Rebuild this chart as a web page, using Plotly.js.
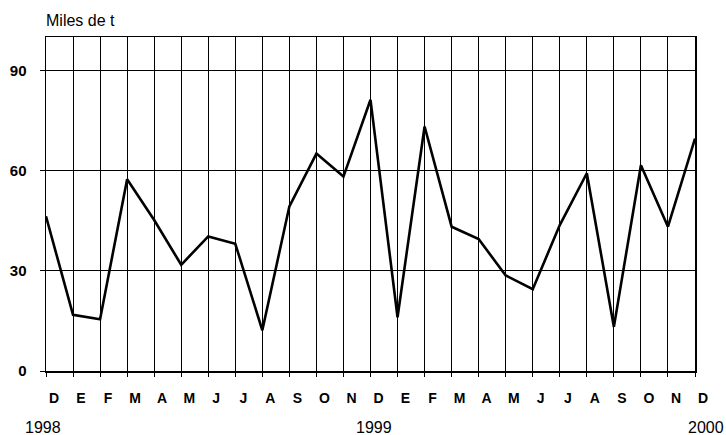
<!DOCTYPE html>
<html>
<head>
<meta charset="utf-8">
<script src="https://cdn.plot.ly/plotly-3.0.1.min.js"></script>
<style>html,body{margin:0;padding:0;background:#fff;}#chart{width:726px;height:435px;}</style>
</head>
<body>
<div id="chart"></div>
<script>
const monthLabels = ["D","E","F","M","A","M","J","J","A","S","O","N","D","E","F","M","A","M","J","J","A","S","O","N","D"];
const values = [46.3,16.8,15.5,57.4,45.2,31.8,40.3,38.1,12.2,49.3,65.1,58.2,81.2,16.1,73.2,43.2,39.5,28.6,24.5,43.7,59.2,13.2,61.6,43.2,69.6];
const yearLabels = ["1998","1999","2000"];
const yearIdx = [0,12,24];
const yTicks = [0,30,60,90];
const unitLabel = "Miles de t";

const idx = monthLabels.map((_, i) => i);
const yearShift = [-3, 3, 11];
const FF = "Arial, 'Liberation Sans', sans-serif";

const trace = {
  x: idx, y: values, type: "scatter", mode: "lines",
  line: {color: "#000", width: 2.6}, hoverinfo: "skip"
};

const layout = {
  width: 726, height: 435,
  margin: {l: 46, r: 31, t: 37, b: 64},
  paper_bgcolor: "#fff", plot_bgcolor: "#fff",
  showlegend: false,
  font: {family: FF, color: "#000"},
  xaxis: {
    range: [0, 24], tickmode: "array", tickvals: idx, ticktext: monthLabels,
    showgrid: true, gridcolor: "#000", gridwidth: 1,
    ticks: "outside", ticklen: 4, tickcolor: "#000", tickwidth: 1,
    showline: true, linecolor: "#000", linewidth: 1.5, mirror: true,
    zeroline: false, ticklabelshift: 8, ticklabelstandoff: 10,
    tickfont: {size: 14, family: FF, weight: "bold"}
  },
  yaxis: {
    range: [0, 100], tickmode: "array", tickvals: yTicks,
    showgrid: true, gridcolor: "#000", gridwidth: 1,
    ticks: "outside", ticklen: 5, tickcolor: "#000", tickwidth: 1,
    showline: true, linecolor: "#000", linewidth: 1.5, mirror: true,
    zeroline: false, ticklabelstandoff: 10,
    tickfont: {size: 15, family: FF, weight: "bold"}
  },
  annotations: [
    {text: unitLabel, xref: "paper", yref: "paper", x: 0, y: 1, yshift: 17, xshift: -2,
     xanchor: "left", yanchor: "middle", showarrow: false,
     font: {size: 16, family: FF}}
  ].concat(yearLabels.map((t, k) => ({
    text: t, xref: "x", yref: "paper", x: yearIdx[k], y: 0, yshift: -56, xshift: yearShift[k],
    xanchor: "center", yanchor: "middle", showarrow: false,
    font: {size: 16, family: FF}
  })))
};

Plotly.newPlot("chart", [trace], layout, {staticPlot: true, displayModeBar: false});
</script>
</body>
</html>
